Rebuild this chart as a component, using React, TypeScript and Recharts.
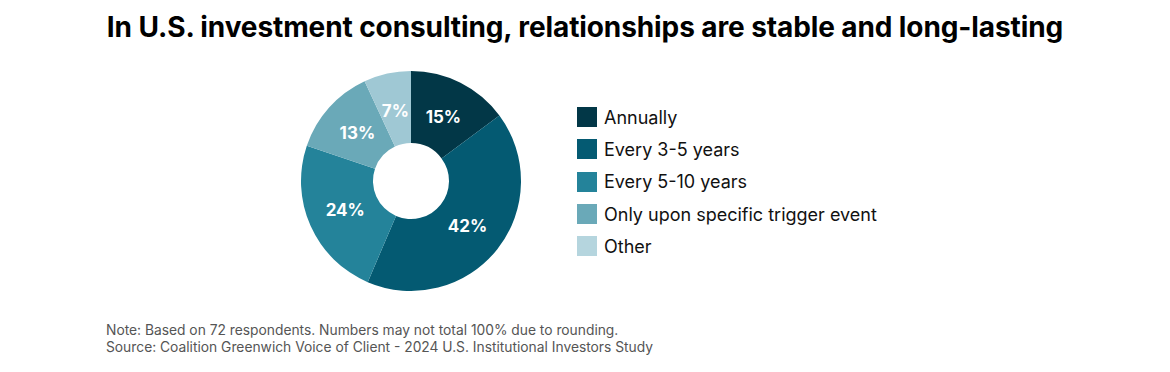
import React from 'react';
import { PieChart, Pie, Cell } from 'recharts';

const categories = ['Annually', 'Every 3-5 years', 'Every 5-10 years', 'Only upon specific trigger event', 'Other'];
const shares = [15, 42, 24, 13, 7];
const colors = ['#023747', '#045a72', '#24839a', '#6aa9b8', '#9fc8d4'];
const legendColors = ['#023747', '#045a72', '#24839a', '#6aa9b8', '#b5d5de'];

const data = categories.map((name, i) => ({ name, value: shares[i] }));

const RADIAN = Math.PI / 180;

const SliceLabel = (props: any) => {
  const { cx, cy, midAngle, value } = props;
  const r = 72;
  const x = cx + r * Math.cos(-midAngle * RADIAN);
  const y = cy + r * Math.sin(-midAngle * RADIAN);
  return (
    <text x={x} y={y} fill="#fff" textAnchor="middle" dominantBaseline="central"
      style={{ fontFamily: 'Inter, sans-serif', fontWeight: 700, fontSize: 17 }}>
      {value}%
    </text>
  );
};

export default function App() {
  return (
    <div style={{ position: 'absolute', left: 0, top: 0, width: 1170, height: 372, background: '#fff', fontFamily: 'Inter, sans-serif' }}>
      <div style={{ position: 'absolute', left: 0, top: 10, width: 1170, textAlign: 'center', fontSize: 28, fontWeight: 700, color: '#000', letterSpacing: -0.1 }}>
        In U.S. investment consulting, relationships are stable and long-lasting
      </div>
      <div style={{ position: 'absolute', left: 0, top: 0 }}>
        <PieChart width={1170} height={372} margin={{ top: 0, right: 0, bottom: 0, left: 0 }}>
          <Pie
            data={data}
            dataKey="value"
            cx={411}
            cy={181}
            innerRadius={38}
            outerRadius={110}
            startAngle={90}
            endAngle={-270}
            stroke="none"
            label={SliceLabel}
            labelLine={false}
            isAnimationActive={false}
          >
            {data.map((d, i) => <Cell key={d.name} fill={colors[i]} />)}
          </Pie>
        </PieChart>
      </div>
      <div style={{ position: 'absolute', left: 577, top: 101 }}>
        {categories.map((c, i) => (
          <div key={c} style={{ display: 'flex', alignItems: 'center', height: 32.3 }}>
            <div style={{ width: 20, height: 20, background: legendColors[i], marginRight: 7 }} />
            <span style={{ fontSize: 18, color: '#111' }}>{c}</span>
          </div>
        ))}
      </div>
      <div style={{ position: 'absolute', left: 106, top: 322, fontSize: 13.8, color: '#555', lineHeight: '17px' }}>
        <div>Note: Based on 72 respondents. Numbers may not total 100% due to rounding.</div>
        <div>Source: Coalition Greenwich Voice of Client - 2024 U.S. Institutional Investors Study</div>
      </div>
    </div>
  );
}
